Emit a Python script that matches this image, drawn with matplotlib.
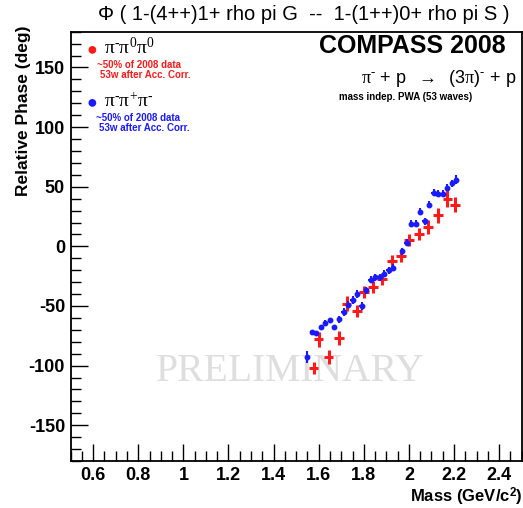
import matplotlib

matplotlib.use("Agg")
import matplotlib.pyplot as plt
import numpy as np
from matplotlib.ticker import MultipleLocator

plt.rcParams["font.family"] = ["Liberation Sans", "DejaVu Sans"]
plt.rcParams["axes.unicode_minus"] = False
plt.rcParams["mathtext.fontset"] = "custom"
plt.rcParams["mathtext.rm"] = "Liberation Serif"
plt.rcParams["mathtext.it"] = "Liberation Serif:italic"
plt.rcParams["mathtext.bf"] = "Liberation Sans:bold"

# pi- pi0 pi0 (red crosses)
red_mass = [1.577, 1.60, 1.644, 1.69, 1.724, 1.77, 1.80, 1.84, 1.88, 1.924,
            1.964, 2.00, 2.045, 2.085, 2.128, 2.17, 2.205]
red_phase = [-102, -78, -93, -77, -48, -54, -38, -34, -27, -12,
             -8, 5, 10, 16, 26, 40, 35]
red_err = [5, 6, 6, 6, 6, 5, 5, 5, 5, 5, 5, 5, 5, 6, 6, 7, 6]

# pi- pi+ pi- (blue dots)
blue_mass = [1.55, 1.57, 1.59, 1.61, 1.63, 1.65, 1.67, 1.69, 1.71, 1.73,
             1.75, 1.77, 1.79, 1.81, 1.83, 1.85, 1.87, 1.89, 1.91, 1.93,
             1.97, 1.99, 2.01, 2.03, 2.05, 2.07, 2.09, 2.11, 2.13, 2.15,
             2.17, 2.19, 2.21]
blue_phase = [-93, -72, -73, -68, -64, -62, -68, -61, -55, -49,
              -45, -40, -50, -37, -28, -26, -26, -23, -20, -18,
              -4, 3, 19, 19, 29, 21, 35, 45, 44, 44,
              49, 53, 56]
blue_err = [5, 2, 2, 2, 2, 2, 2, 3, 3, 3, 3, 3, 3, 3, 3, 3, 3, 3, 3, 3,
            3, 3, 3, 3, 3, 3, 3, 3, 3, 3, 3, 3, 4]

fig = plt.figure(figsize=(5.23, 5.08), dpi=100)
ax = fig.add_axes([0.135, 0.0925, 0.8625, 0.8451])

ax.text(1.475, -105, "PRELIMINARY", fontsize=28.5, family="Liberation Serif",
        color="#dedede", ha="center", va="center", zorder=0)

ax.errorbar(red_mass, red_phase, yerr=red_err, xerr=0.021, fmt="none",
            ecolor="#ff1a1a", elinewidth=2.2, capsize=0, zorder=3)
ax.errorbar(blue_mass, blue_phase, yerr=blue_err, xerr=0.01, fmt="o",
            color="#1a1aff", ms=3.2, elinewidth=1.5, capsize=0, zorder=4)

ax.set_xlim(0.5, 2.5)
ax.set_ylim(-180, 180)
ax.xaxis.set_minor_locator(MultipleLocator(0.05))
ax.yaxis.set_major_locator(MultipleLocator(50))
ax.yaxis.set_minor_locator(MultipleLocator(10))
ax.set_xticks(np.arange(0.6, 2.41, 0.2))
ax.set_xticklabels(["0.6", "0.8", "1", "1.2", "1.4", "1.6", "1.8", "2", "2.2", "2.4"])
ax.tick_params(which="both", direction="in", top=False, right=False)
ax.tick_params(which="major", length=12, width=1, labelsize=13, pad=4)
ax.tick_params(which="minor", length=7, width=1)
for lab in ax.get_xticklabels() + ax.get_yticklabels():
    lab.set_fontweight("bold")
for s in ax.spines.values():
    s.set_linewidth(1.3)

fig.text(0.999, 0.022, "Mass (GeV/c$^{\\mathbf{2}}$)", ha="right", va="center",
         fontsize=12, fontweight="bold")
fig.text(0.044, 0.95, "Relative Phase (deg)", rotation=90, ha="center",
         va="top", fontsize=12.5, fontweight="bold")
fig.text(0.581, 0.972, "\u03a6 ( 1-(4++)1+ rho pi G  --  1-(1++)0+ rho pi S )",
         ha="center", va="center", fontsize=14.5)

# legend block
pi_red = r"$\mathrm{\pi^{\text{-}}\pi^{0}\pi^{0}}$"
pi_blue = r"$\mathrm{\pi^{\text{-}}\pi^{+}\pi^{\text{-}}}$"
fig.text(0.176, 0.903, "\u25cf", color="#ff1a1a", fontsize=13, ha="center", va="center")
fig.text(0.199, 0.906, pi_red, fontsize=14, ha="left", va="center")
fig.text(0.186, 0.873, "~50% of 2008 data", color="#ff1a1a", fontsize=7,
         fontweight="bold", ha="left", va="center")
fig.text(0.191, 0.853, "53w after Acc. Corr.", color="#ff1a1a", fontsize=7,
         fontweight="bold", ha="left", va="center")
fig.text(0.176, 0.797, "\u25cf", color="#1a1aff", fontsize=13, ha="center", va="center")
fig.text(0.199, 0.800, pi_blue, fontsize=14, ha="left", va="center")
fig.text(0.184, 0.768, "~50% of 2008 data", color="#1a1aff", fontsize=7,
         fontweight="bold", ha="left", va="center")
fig.text(0.189, 0.748, "53w after Acc. Corr.", color="#1a1aff", fontsize=7,
         fontweight="bold", ha="left", va="center")

fig.text(0.966, 0.909, "COMPASS 2008", fontsize=18, fontweight="bold",
         ha="right", va="center")
fig.text(0.988, 0.846,
         r"$\mathrm{\pi^{\text{-}}}$ + p  $\rightarrow$  (3$\mathrm{\pi}$)$^{\text{-}}$ + p",
         fontsize=13, ha="right", va="center")
fig.text(0.775, 0.809, "mass indep. PWA (53 waves)", fontsize=7,
         fontweight="bold", ha="center", va="center")

fig.savefig("out.png", dpi=100)
plt.close()
